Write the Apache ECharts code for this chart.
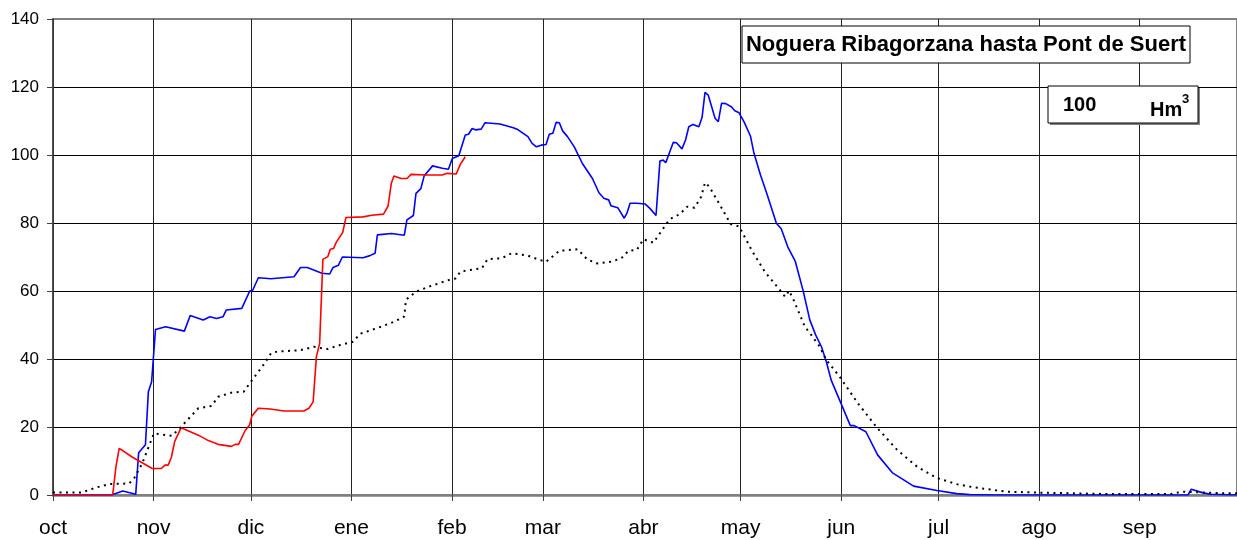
<!DOCTYPE html>
<html>
<head>
<meta charset="utf-8">
<script src="https://cdn.jsdelivr.net/npm/echarts@6/dist/echarts.min.js"></script>
<style>
  html, body { margin: 0; padding: 0; background: #fff; }
  #chart { width: 1237px; height: 540px; }
</style>
</head>
<body>
<div id="chart"></div>
<script>
/* meses del año hidrológico (día desde 1 oct) */
const monthNames = ['oct', 'nov', 'dic', 'ene', 'feb', 'mar', 'abr', 'may', 'jun', 'jul', 'ago', 'sep'];
const monthStarts = [0, 31, 61, 92, 123, 151, 182, 212, 243, 273, 304, 335];

/* año actual (azul) [día, Hm3] */
const blueData = [
  [0, 0], [18, 0], [21.5, 1.2], [25.5, 0.2], [26.4, 12.4], [28.5, 14.8], [29.4, 30.4], [30.4, 33.3],
  [31.6, 48.7], [34.7, 49.5], [40.5, 48.2], [42.3, 52.8], [46.3, 51.5], [48.4, 52.4], [50.4, 51.9],
  [52.4, 52.4], [53.4, 54.4], [58.2, 54.9], [60.6, 59.9], [61.6, 60.3], [63.3, 63.9], [67.2, 63.6],
  [74.3, 64.2], [76.3, 66.9], [78.4, 66.9], [82.9, 65.2], [85.3, 65], [86.3, 66.9], [88, 67.6],
  [89.2, 70], [95.6, 69.8], [97.7, 70.4], [99.3, 71.1], [100, 76.5], [104.3, 76.9], [108.3, 76.4],
  [109.1, 80.9], [111.1, 82.2], [111.9, 88.7], [113.4, 90.1], [114.4, 93.8], [117, 96.8], [120, 96.1],
  [121.9, 95.8], [123.1, 99], [125.1, 99.8], [127.1, 105.9], [128.1, 106.1], [129.2, 107.8],
  [130.2, 107.4], [132, 107.6], [133.2, 109.5], [137.8, 109.1], [141.9, 108], [143.4, 107.4],
  [146.4, 105.4], [147.7, 103.4], [149, 102.4], [150.5, 102.9], [152, 103.1], [153, 106.1],
  [154.1, 106.4], [155.1, 109.6], [156.1, 109.5], [157.1, 107.1], [158.6, 105.4], [160.7, 102.4],
  [163.2, 97.5], [166.3, 93.1], [168.3, 88.9], [169.8, 87.3], [171.3, 86.8], [172, 85.1], [174.1, 84.5],
  [176.1, 81.4], [176.9, 82.8], [177.9, 85.8], [180, 85.8], [182.5, 85.6], [184, 84.3], [185.9, 82.2],
  [187.1, 98.2], [188.1, 98.5], [188.9, 97.7], [191.2, 103.7], [192.2, 103.6], [193.9, 101.8],
  [195, 104.4], [196, 108.3], [197.3, 109], [199.1, 108.3], [200.1, 111.1], [201, 118.4], [202, 117.6],
  [204.1, 110.8], [205.1, 109.8], [206.1, 115.2], [207.4, 115.1], [209.1, 114.2], [210.2, 113],
  [211.5, 112.4], [213, 109.8], [215, 105.6], [216.1, 100.5], [218.1, 94.1], [220.1, 88.5], [223, 79.9],
  [224.5, 78.3], [226.5, 73], [228.8, 68.8], [231.3, 59.9], [233.3, 51.5], [235.1, 47.1], [236.9, 43.6],
  [238.4, 39.2], [239.9, 33.8], [242.5, 27.9], [245.8, 20.4], [247, 20.4], [250.6, 18.6], [254.2, 11.8],
  [258.7, 6.6], [265.3, 2.6], [272.5, 1.3], [278.6, 0.4], [282.6, 0.1], [290, 0], [349.9, 0],
  [350.9, 1.7], [354.3, 0.7], [356.8, 0.2], [365, 0]
];

/* año en curso (rojo) */
const redData = [
  [0, 0], [18.4, 0], [19.4, 8.3], [20.4, 13.7], [21.6, 13], [24.5, 11.1], [30.6, 7.8], [33.4, 7.8],
  [34.5, 8.8], [35.5, 8.8], [36.5, 11.1], [37.5, 15.7], [39.5, 19.8], [44.8, 17.6], [47.9, 16],
  [50.9, 14.9], [55, 14.3], [56.2, 14.9], [57.2, 14.9], [59.2, 18.9], [60.6, 20.6], [61.3, 23.2],
  [63.3, 25.5], [67, 25.3], [71.2, 24.7], [77.3, 24.7], [78.9, 25.5], [80.2, 27.4], [81.2, 40.7],
  [82.2, 44.6], [83.2, 69.3], [84.7, 70.1], [85.5, 72.3], [86.5, 72.5], [87.3, 74.3], [89.3, 77.2],
  [90.3, 81.6], [95.6, 81.8], [98.2, 82.3], [101.9, 82.6], [103.3, 85], [104.3, 91.7], [105.1, 93.8],
  [107.3, 93.1], [109.1, 93.1], [110.4, 94.3], [114.9, 94.1], [120, 94.1], [121.5, 94.6],
  [124.3, 94.4], [125.6, 97.3], [127.1, 99.5]
];

/* media (punteada) */
const avgData = [
  [0, 0.7], [8.7, 0.7], [13.3, 2.2], [17.4, 3.2], [23.5, 3.4], [25, 4.9], [27.5, 9.3], [31.1, 18.1],
  [36.7, 17.4], [39.7, 20.3], [44.8, 25.5], [48.9, 26.2], [50.9, 28.9], [55, 30.1], [58.8, 30.4],
  [61, 33.3], [65.2, 38.7], [67.2, 41.7], [69.2, 42.2], [76.3, 42.6], [80.4, 43.6], [84.5, 42.9],
  [88.5, 44.1], [92.6, 45.1], [94.6, 47.4], [99.7, 49], [105.3, 51], [108.3, 52.5], [108.8, 57.4],
  [111.9, 59.8], [115.9, 61.3], [122.6, 63.4], [124.1, 63.7], [125.6, 65.7], [132.2, 66.7],
  [134, 69.4], [138.3, 69.6], [141.4, 71.1], [146.4, 70.4], [149.5, 69.3], [152, 68.6], [156.1, 71.8],
  [161.7, 72.3], [164.7, 69.3], [167.8, 68.1], [172.3, 68.6], [175.4, 69.8], [177.4, 71.8], [180, 72.1],
  [182, 75.2], [185.1, 74.2], [187.6, 77.7], [190.1, 81.1], [193.2, 82.6], [195.5, 84.8], [197.8, 84.5],
  [199.8, 87.7], [201, 91.9], [202.3, 90.7], [205.9, 84.8], [208.9, 79.7], [211.5, 79], [215.5, 71.8],
  [219.4, 65.7], [223.9, 60.5], [225.7, 58.3], [226.9, 60.1], [228.3, 57.4], [231.8, 49.5],
  [233.8, 47], [236.4, 43.6], [238.2, 40], [242.5, 34.8], [248.1, 27], [254.2, 19.6], [260.3, 13.2],
  [266.4, 8.3], [272.5, 5], [278.6, 3.2], [283.6, 2.3], [293.8, 1], [303.3, 0.7], [324.3, 0.3],
  [344.6, 0.3], [348.2, 1], [352.7, 0.8], [360.9, 0.5], [365, 0.5]
];

const titleText = 'Noguera Ribagorzana hasta Pont de Suert';
const capacity = '100';

const font = '"Liberation Sans", Arial, sans-serif';

let myChart = echarts.init(document.getElementById('chart'));

let option = {
    animation: false,
    backgroundColor: '#fff',
    grid: {
        left: 53,
        right: -11,
        top: 19,
        bottom: 45,
        show: true,
        borderColor: '#808080',
        borderWidth: 2
    },
    xAxis: {
        type: 'value',
        min: 0,
        max: 365,
        axisLine: {lineStyle: {color: '#808080', width: 2.5}},
        axisTick: {
            show: true,
            customValues: monthStarts,
            length: 6,
            lineStyle: {color: '#404040'}
        },
        axisLabel: {
            customValues: monthStarts,
            formatter: (v) => monthNames[monthStarts.indexOf(v)],
            margin: 23,
            fontSize: 21,
            color: '#000',
            fontFamily: font
        },
        splitLine: {show: true, lineStyle: {color: '#222', width: 1}}
    },
    yAxis: {
        type: 'value',
        min: 0,
        max: 140,
        interval: 20,
        axisLine: {show: true, lineStyle: {color: '#404040', width: 1.5}},
        axisTick: {show: true, length: 6, lineStyle: {color: '#404040'}},
        axisLabel: {
            margin: 14,
            fontSize: 17,
            color: '#000',
            fontFamily: font
        },
        splitLine: {show: true, showMaxLine: false, lineStyle: {color: '#000', width: 1}}
    },
    series: [
        {
            name: 'actual',
            type: 'line',
            data: blueData,
            showSymbol: false,
            lineStyle: {color: '#0000ff', width: 1.6},
            z: 3
        },
        {
            name: 'anterior',
            type: 'line',
            data: redData,
            showSymbol: false,
            lineStyle: {color: '#ff0000', width: 1.6},
            z: 4
        },
        {
            name: 'media',
            type: 'line',
            data: avgData,
            showSymbol: false,
            lineStyle: {color: '#000', width: 2, type: [2, 4.5], cap: 'butt'},
            z: 5
        }
    ],
    graphic: [
        {
            type: 'rect', z: 100,
            shape: {x: 742, y: 26, width: 448, height: 37},
            style: {fill: '#fff', stroke: '#000', lineWidth: 1}
        },
        {
            type: 'text', z: 101, x: 966, y: 45,
            style: {text: titleText, font: 'bold 22px ' + font, fill: '#000', align: 'center', verticalAlign: 'middle'}
        },
        {
            type: 'rect', z: 100,
            shape: {x: 1050, y: 88, width: 150, height: 37},
            style: {fill: '#808080'}
        },
        {
            type: 'rect', z: 100,
            shape: {x: 1048, y: 86, width: 150, height: 37},
            style: {fill: '#fff', stroke: '#000', lineWidth: 1}
        },
        {
            type: 'text', z: 101, x: 1063, y: 105,
            style: {text: capacity, font: 'bold 20px ' + font, fill: '#000', align: 'left', verticalAlign: 'middle'}
        },
        {
            type: 'text', z: 101, x: 1150, y: 110,
            style: {text: 'Hm', font: 'bold 20px ' + font, fill: '#000', align: 'left', verticalAlign: 'middle'}
        },
        {
            type: 'text', z: 101, x: 1182, y: 99,
            style: {text: '3', font: 'bold 13px ' + font, fill: '#000', align: 'left', verticalAlign: 'middle'}
        }
    ]
};

myChart.setOption(option);
</script>
</body>
</html>
